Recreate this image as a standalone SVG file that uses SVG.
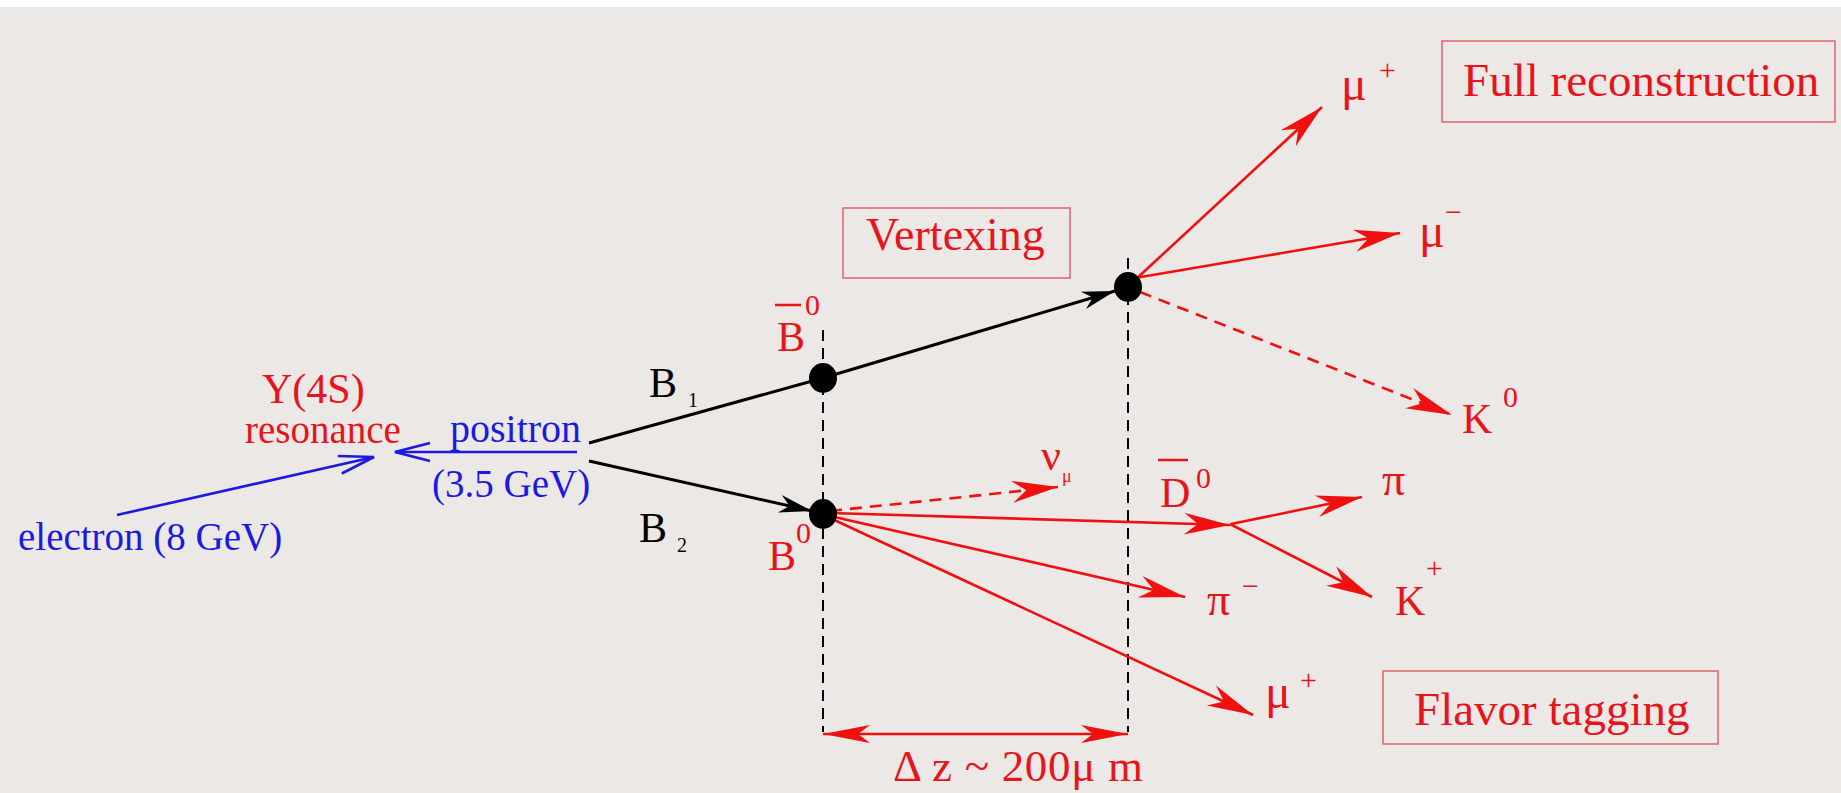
<svg xmlns="http://www.w3.org/2000/svg" width="1841" height="793" viewBox="0 0 1841 793">
<style>
.t{font-family:"Liberation Serif","Times New Roman",serif}
.r{fill:#e8141c}
.b{fill:#1a1ae0}
.k{fill:#000}
.box{fill:none;stroke:#e06a72;stroke-width:1.6}
.rl{stroke:#f01010;stroke-width:2.6;fill:none}
.rd{stroke:#f01010;stroke-width:2.6;fill:none;stroke-dasharray:12 8}
.kl{stroke:#000;stroke-width:3;fill:none}
.kd{stroke:#000;stroke-width:2;fill:none;stroke-dasharray:11 7}
.bl{stroke:#1a1ae0;stroke-width:2.6;fill:none}
</style>
<defs>
<marker id="ar" viewBox="-50 -14 52 28" refX="0" refY="0" markerWidth="52" markerHeight="28" orient="auto" markerUnits="userSpaceOnUse"><path d="M0,0 L-46,-11 L-32,0 L-46,11 Z" fill="#f01010"/></marker>
<marker id="ak" viewBox="-40 -12 42 24" refX="0" refY="0" markerWidth="42" markerHeight="24" orient="auto" markerUnits="userSpaceOnUse"><path d="M0,0 L-33,-9 L-23,0 L-33,9 Z" fill="#000"/></marker>
<marker id="ab" viewBox="-40 -12 42 24" refX="0" refY="0" markerWidth="42" markerHeight="24" orient="auto" markerUnits="userSpaceOnUse"><path d="M-35,-9 L0,0 L-35,9" fill="none" stroke="#1a1ae0" stroke-width="2.6"/></marker>
<marker id="adz" viewBox="-50 -12 52 24" refX="0" refY="0" markerWidth="52" markerHeight="24" orient="auto-start-reverse" markerUnits="userSpaceOnUse"><path d="M0,0 L-47,-9 L-35,0 L-47,9 Z" fill="#f01010"/></marker>
</defs>
<rect x="0" y="0" width="1841" height="793" fill="#ece8e5"/>
<rect x="0" y="0" width="1841" height="7" fill="#ffffff"/>

<g id="connectors">
<line class="kd" x1="823" y1="330" x2="823" y2="732"/>
<line class="kd" x1="1128" y1="258" x2="1128" y2="732"/>
<line class="bl" x1="577" y1="452" x2="395" y2="452" marker-end="url(#ab)"/>
<line class="bl" x1="117" y1="515" x2="374" y2="457" marker-end="url(#ab)"/>
<line class="kl" x1="589" y1="443" x2="823" y2="378"/>
<line class="kl" x1="823" y1="378" x2="1115" y2="291" marker-end="url(#ak)"/>
<line class="kl" x1="589" y1="461" x2="812" y2="511" marker-end="url(#ak)"/>
<line class="rl" x1="1135" y1="280" x2="1322" y2="107" marker-end="url(#ar)"/>
<line class="rl" x1="1135" y1="278" x2="1400" y2="233" marker-end="url(#ar)"/>
<line class="rd" x1="1140" y1="292" x2="1452" y2="415" marker-end="url(#ar)"/>
<line class="rd" x1="830" y1="511" x2="1058" y2="487" marker-end="url(#ar)"/>
<line class="rl" x1="830" y1="513" x2="1230" y2="525" marker-end="url(#ar)"/>
<line class="rl" x1="830" y1="516" x2="1185" y2="597" marker-end="url(#ar)"/>
<line class="rl" x1="830" y1="518" x2="1253" y2="715" marker-end="url(#ar)"/>
<line class="rl" x1="1231" y1="524" x2="1362" y2="497" marker-end="url(#ar)"/>
<line class="rl" x1="1230" y1="524" x2="1372" y2="597" marker-end="url(#ar)"/>
<line class="rl" x1="823" y1="734" x2="1128" y2="734" marker-start="url(#adz)" marker-end="url(#adz)"/>
</g>

<g id="vertex-b1"><ellipse cx="823" cy="378" rx="14" ry="15" fill="#000"/></g>
<g id="vertex-b2"><ellipse cx="823" cy="514" rx="14" ry="15" fill="#000"/></g>
<g id="vertex-decay"><ellipse cx="1128" cy="287" rx="14" ry="15" fill="#000"/></g>

<g id="box-full-reconstruction">
<rect class="box" x="1442" y="41" width="393" height="81"/>
<text class="t r" x="1463" y="96" font-size="47">Full reconstruction</text>
</g>
<g id="box-vertexing">
<rect class="box" x="843" y="208" width="227" height="70"/>
<text class="t r" x="866" y="250" font-size="46">Vertexing</text>
</g>
<g id="box-flavor-tagging">
<rect class="box" x="1383" y="671" width="335" height="73"/>
<text class="t r" x="1414" y="725" font-size="47">Flavor tagging</text>
</g>

<g id="label-y4s">
<text class="t r" x="262" y="403" font-size="42">Y(4S)</text>
<text class="t r" x="245" y="443" font-size="39">resonance</text>
</g>
<g id="label-positron">
<text class="t b" x="450" y="442" font-size="40">positron</text>
<text class="t b" x="432" y="497" font-size="39">(3.5 GeV)</text>
</g>
<g id="label-electron">
<text class="t b" x="18" y="550" font-size="39">electron (8 GeV)</text>
</g>
<g id="label-b1">
<text class="t k" x="649" y="397" font-size="42">B</text>
<text class="t k" x="688" y="407" font-size="20">1</text>
</g>
<g id="label-b2">
<text class="t k" x="639" y="542" font-size="42">B</text>
<text class="t k" x="677" y="552" font-size="20">2</text>
</g>
<g id="label-bbar0">
<text class="t r" x="777" y="351" font-size="42">B</text>
<line x1="775" y1="305" x2="801" y2="305" stroke="#e8141c" stroke-width="2.5"/>
<text class="t r" x="805" y="315" font-size="30">0</text>
</g>
<g id="label-b0">
<text class="t r" x="768" y="570" font-size="42">B</text>
<text class="t r" x="796" y="543" font-size="30">0</text>
</g>
<g id="label-mu-plus-top">
<text class="t r" x="1341" y="100" font-size="48">μ</text>
<text class="t r" x="1379" y="80" font-size="30">+</text>
</g>
<g id="label-mu-minus">
<text class="t r" x="1419" y="247" font-size="48">μ</text>
<text class="t r" x="1445" y="222" font-size="30">−</text>
</g>
<g id="label-k0">
<text class="t r" x="1462" y="433" font-size="42">K</text>
<text class="t r" x="1503" y="407" font-size="30">0</text>
</g>
<g id="label-nu-mu">
<text class="t r" x="1041" y="470" font-size="44">ν</text>
<text class="t r" x="1062" y="482" font-size="18">μ</text>
</g>
<g id="label-dbar0">
<text class="t r" x="1160" y="507" font-size="42">D</text>
<line x1="1158" y1="460" x2="1188" y2="460" stroke="#e8141c" stroke-width="2.5"/>
<text class="t r" x="1196" y="488" font-size="30">0</text>
</g>
<g id="label-pi">
<text class="t r" x="1382" y="495" font-size="46">π</text>
</g>
<g id="label-k-plus">
<text class="t r" x="1395" y="615" font-size="42">K</text>
<text class="t r" x="1426" y="578" font-size="30">+</text>
</g>
<g id="label-pi-minus">
<text class="t r" x="1207" y="615" font-size="46">π</text>
<text class="t r" x="1242" y="596" font-size="30">−</text>
</g>
<g id="label-mu-plus-bottom">
<text class="t r" x="1265" y="708" font-size="48">μ</text>
<text class="t r" x="1300" y="690" font-size="30">+</text>
</g>
<g id="label-dz">
<text class="t r" x="893" y="781" font-size="45" textLength="250" lengthAdjust="spacing">Δ z ~ 200μ m</text>
</g>
</svg>
